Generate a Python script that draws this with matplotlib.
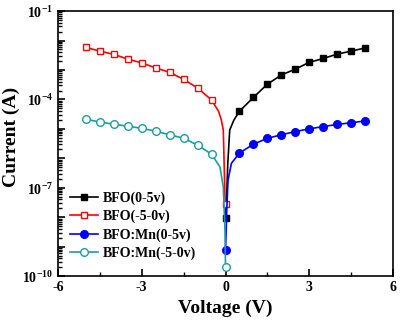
import numpy as np
import matplotlib
matplotlib.use("Agg")
import matplotlib.pyplot as plt
from matplotlib.ticker import FixedLocator, FixedFormatter, NullFormatter, MultipleLocator

plt.rcParams['font.family'] = 'Liberation Serif'
plt.rcParams['font.weight'] = 'bold'
plt.rcParams['mathtext.fontset'] = 'custom'
plt.rcParams['mathtext.rm'] = 'Liberation Serif:bold'
plt.rcParams['mathtext.bf'] = 'Liberation Serif:bold'

# log10 of current
# BFO (0-5v)
v_bfo_pos = [0.0, 0.02, 0.04, 0.08, 0.15, 0.3, 0.5, 1.0, 1.5, 2.0, 2.5, 3.0, 3.5, 4.0, 4.5, 5.0]
i_bfo_pos = [-8.04, -7.6, -7.3, -6.2, -5.04, -4.7, -4.40, -3.93, -3.48, -3.17, -2.97, -2.74, -2.61, -2.46, -2.36, -2.25]
mk_bfo_pos = [0] + list(range(6, 16))

# BFO (-5-0v)
v_bfo_neg = [-5.0, -4.5, -4.0, -3.5, -3.0, -2.5, -2.0, -1.5, -1.0, -0.5, -0.25, -0.15, -0.08, -0.02, 0.0]
i_bfo_neg = [-2.23, -2.36, -2.47, -2.63, -2.76, -2.93, -3.08, -3.32, -3.61, -4.02, -4.4, -4.7, -5.04, -7.3, -7.56]
mk_bfo_neg = list(range(0, 10)) + [14]

# BFO:Mn (0-5v)
v_mn_pos = [0.0, 0.04, 0.09, 0.21, 0.5, 1.0, 1.5, 2.0, 2.5, 3.0, 3.5, 4.0, 4.5, 5.0]
i_mn_pos = [-9.12, -7.86, -6.74, -6.17, -5.82, -5.52, -5.32, -5.20, -5.09, -5.00, -4.92, -4.85, -4.79, -4.73]
mk_mn_pos = [0] + list(range(4, 14))

# BFO:Mn (-5-0v)
v_mn_neg = [-5.0, -4.5, -4.0, -3.5, -3.0, -2.5, -2.0, -1.5, -1.0, -0.5, -0.2, -0.08, -0.02, 0.0]
i_mn_neg = [-4.67, -4.77, -4.84, -4.91, -4.98, -5.08, -5.20, -5.32, -5.55, -5.86, -6.29, -6.97, -8.44, -9.68]
mk_mn_neg = list(range(0, 10)) + [13]

teal = '#1e9c9c'

fig = plt.figure(figsize=(4.02, 3.26), dpi=100)
ax = fig.add_axes([0.144, 0.153, 0.834, 0.813])

ax.plot(v_bfo_pos, 10 ** np.array(i_bfo_pos), '-s', color='black', lw=1.2, ms=5,
        markevery=mk_bfo_pos, label='BFO(0-5v)')
ax.plot(v_bfo_neg, 10 ** np.array(i_bfo_neg), '-s', color='red', lw=1.2, ms=5,
        mfc='white', markevery=mk_bfo_neg, label='BFO(-5-0v)')
ax.plot(v_mn_pos, 10 ** np.array(i_mn_pos), '-o', color='blue', lw=1.2, ms=5.5,
        markevery=mk_mn_pos, label='BFO:Mn(0-5v)')
ax.plot(v_mn_neg, 10 ** np.array(i_mn_neg), '-o', color=teal, lw=1.2, ms=5.5,
        mfc='white', markevery=mk_mn_neg, label='BFO:Mn(-5-0v)')

ax.set_yscale('log')
ax.set_xlim(-6, 6)
ax.set_ylim(1e-10, 1e-1)

ax.set_xticks([-6, -3, 0, 3, 6])
ax.set_xticklabels(['-6', '-3', '0', '3', '6'])
ax.xaxis.set_minor_locator(MultipleLocator(1.5))

majors = [10.0 ** k for k in range(-10, 0)]
labels = [r'$10^{%d}$' % k if k in (-1, -4, -7, -10) else '' for k in range(-10, 0)]
ax.yaxis.set_major_locator(FixedLocator(majors))
ax.yaxis.set_major_formatter(FixedFormatter(labels))
minors = [m * 10.0 ** k for k in range(-10, -1) for m in range(2, 10)]
ax.yaxis.set_minor_locator(FixedLocator(minors))
ax.yaxis.set_minor_formatter(NullFormatter())

ax.tick_params(which='both', direction='in', top=False, right=False, labelsize=10)
ax.tick_params(which='major', length=5, width=1.2)
ax.tick_params(which='minor', length=3, width=1.0)
for s in ax.spines.values():
    s.set_linewidth(1.2)

ax.set_xlabel('Voltage (V)', fontsize=14, fontweight='bold')
ax.set_ylabel('Current (A)', fontsize=14, fontweight='bold')
ax.yaxis.set_label_coords(-0.112, 0.525)

ax.legend(loc='lower left', bbox_to_anchor=(0.0, 0.012), frameon=False, fontsize=10,
          handlelength=2.0, handletextpad=0.3, labelspacing=0.37)

fig.savefig('out.png', dpi=100)
